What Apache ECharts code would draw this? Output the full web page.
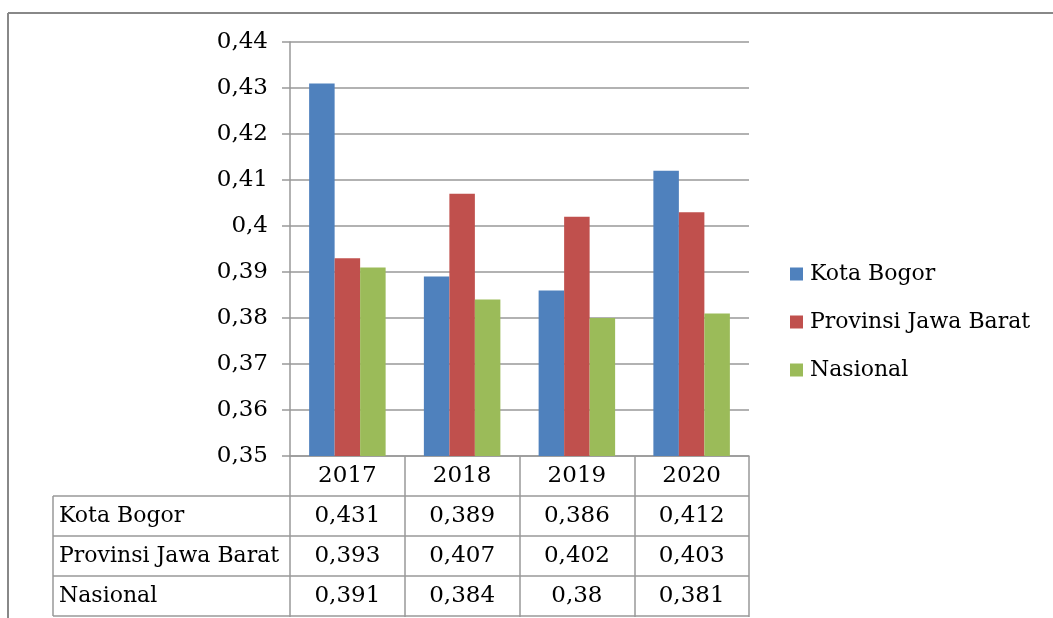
<!DOCTYPE html>
<html>
<head>
<meta charset="utf-8">
<script src="https://cdn.jsdelivr.net/npm/echarts@6/dist/echarts.min.js"></script>
<style>
    html, body { margin: 0; padding: 0; background: #fff; }
    #chart { width: 1053px; height: 618px; }
</style>
</head>
<body>
<div id="chart"></div>
<script>
// data
let years = ['2017', '2018', '2019', '2020'];
let seriesNames = ['Kota Bogor', 'Provinsi Jawa Barat', 'Nasional'];
let kotaBogor = [0.431, 0.389, 0.386, 0.412];
let jawaBarat = [0.393, 0.407, 0.402, 0.403];
let nasional = [0.391, 0.384, 0.38, 0.381];
let colors = ['#4F81BD', '#C0504D', '#9BBB59'];

let FONT = 'DejaVu Serif';
// plot layout
let gridLeft = 290, gridRight = 304, gridTop = 42, gridBottom = 162;
let tableLeft = 53, rowH = 40;

function fmt(v) {
    return String(parseFloat(Number(v).toFixed(3))).replace('.', ',');
}

let dom = document.getElementById('chart');
let chart = echarts.init(dom, null, {renderer: 'canvas'});

let rows = [kotaBogor, jawaBarat, nasional];

let option = {
    animation: false,
    color: colors,
    textStyle: {fontFamily: FONT},
    grid: {
        left: gridLeft,
        right: gridRight,
        top: gridTop,
        bottom: gridBottom
    },
    legend: {
        orient: 'vertical',
        left: 785,
        top: 257,
        icon: 'rect',
        itemWidth: 13,
        itemHeight: 13,
        itemGap: 24,
        textStyle: {fontFamily: FONT, fontSize: 22, color: '#000', lineHeight: 24, padding: [0, 0, 0, 2]},
        data: seriesNames
    },
    xAxis: {
        type: 'category',
        data: years,
        axisLine: {lineStyle: {color: '#999', width: 1.5}},
        axisTick: {show: true, length: 161, lineStyle: {color: '#999', width: 1.5}},
        axisLabel: {
            margin: 0,
            fontFamily: FONT,
            fontSize: 23,
            color: '#000',
            lineHeight: rowH,
            formatter: function (value, idx) {
                let lines = [value];
                rows.forEach(function (r) { lines.push(fmt(r[idx])); });
                return lines.join('\n');
            }
        }
    },
    yAxis: {
        type: 'value',
        min: 0.35,
        max: 0.44,
        interval: 0.01,
        axisLine: {show: true, lineStyle: {color: '#999', width: 1.5}},
        axisTick: {show: true, length: 8, lineStyle: {color: '#999', width: 1.5}},
        splitLine: {lineStyle: {color: '#999', width: 1.5}},
        axisLabel: {
            margin: 22,
            fontFamily: FONT,
            fontSize: 23,
            color: '#000',
            formatter: function (v) {
                return String(parseFloat(v.toFixed(2))).replace('.', ',');
            }
        }
    },
    series: [
        {name: seriesNames[0], type: 'bar', data: kotaBogor, barWidth: 25.5, barGap: '0%'},
        {name: seriesNames[1], type: 'bar', data: jawaBarat, barWidth: 25.5, barGap: '0%'},
        {name: seriesNames[2], type: 'bar', data: nasional, barWidth: 25.5, barGap: '0%'}
    ]
};

chart.setOption(option);

// data table lines and row headers, positioned from the axes
let y0 = chart.convertToPixel({yAxisIndex: 0}, 0.35);
let xRight = 1053 - gridRight;
let graphics = [
    // outer frame
    {type: 'line', shape: {x1: 8, y1: 13, x2: 1053, y2: 13}, style: {stroke: '#888', lineWidth: 2}},
    {type: 'line', shape: {x1: 8, y1: 13, x2: 8, y2: 618}, style: {stroke: '#888', lineWidth: 2}},
    // table left border
    {type: 'line', shape: {x1: tableLeft, y1: y0 + rowH, x2: tableLeft, y2: y0 + rowH * 4}, style: {stroke: '#999', lineWidth: 1.5}}
];
for (let i = 1; i <= 4; i++) {
    graphics.push({
        type: 'line',
        shape: {x1: tableLeft, y1: y0 + rowH * i, x2: xRight, y2: y0 + rowH * i},
        style: {stroke: '#999', lineWidth: 1.5}
    });
}
seriesNames.forEach(function (name, i) {
    graphics.push({
        type: 'text',
        x: tableLeft + 6,
        y: y0 + rowH * (i + 1) + rowH / 2,
        style: {text: name, fontFamily: FONT, fontSize: 22, fill: '#000', verticalAlign: 'middle', align: 'left'}
    });
});
chart.setOption({graphic: graphics});

window.onresize = function () {
    chart.resize();
};
</script>
</body>
</html>
